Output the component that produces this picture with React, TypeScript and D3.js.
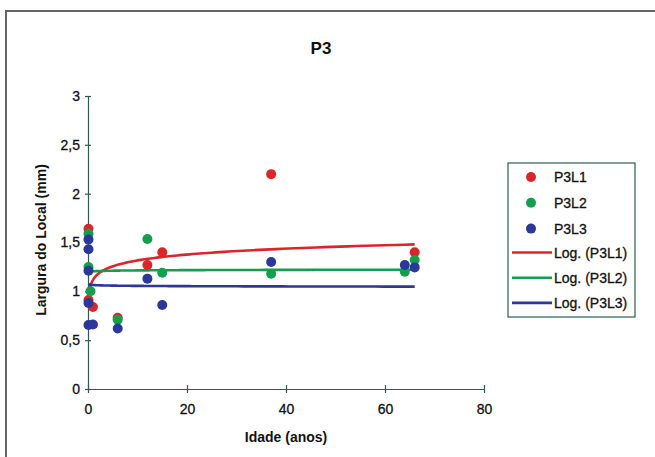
import React from 'react';
import * as d3 from 'd3';

// leituras do grafico P3
const seriesNames = ['P3L1', 'P3L2', 'P3L3'];
const seriesColors = ['#d9262b', '#12a04c', '#2b3799'];

const ageL1 = [0.1, 0.1, 1, 6, 12, 15, 37, 66];
const valL1 = [1.64, 0.91, 0.84, 0.73, 1.27, 1.40, 2.20, 1.40];

const ageL2 = [0.1, 0.1, 0.5, 6, 12, 15, 37, 64, 66];
const valL2 = [1.59, 1.25, 1.0, 0.71, 1.535, 1.19, 1.18, 1.20, 1.32];

const ageL3 = [0.1, 0.1, 0.1, 0.1, 0.1, 1, 6, 12, 15, 37, 64, 66];
const valL3 = [1.53, 1.43, 1.21, 0.88, 0.655, 0.66, 0.62, 1.13, 0.86, 1.30, 1.27, 1.245];

// y = a*ln(x) + b  (linhas de tendencia Log.)
const trendA = [0.087, 0.004, -0.004];
const trendB = [1.116, 1.205, 1.065];

const xTicks = [0, 20, 40, 60, 80];
const yTicks = [0, 0.5, 1, 1.5, 2, 2.5, 3];

export default class App extends React.Component {

    constructor(props) {
        super(props);
        this.graphWidth = 655;
        this.graphHeight = 457;
        this.font = '"Liberation Sans", Arial, sans-serif';
        this.axisColor = '#2f5a50';
    }

    componentDidMount() {
        this.drawGraph();
    }

    render() {
        return <div id="svgGraph" style={{position: 'fixed', left: 0, top: 0}}></div>;
    }

    drawGraph = () => {
        d3.select('#svgGraph svg').remove();
        const svg = d3.select('#svgGraph').append('svg')
            .attr('width', this.graphWidth)
            .attr('height', this.graphHeight)
            .style('display', 'block')
            .style('font-family', this.font);

        svg.append('rect')
            .attr('width', this.graphWidth).attr('height', this.graphHeight)
            .attr('fill', '#fff');

        // moldura
        svg.append('rect')
            .attr('x', 6).attr('y', 11)
            .attr('width', 700).attr('height', 500)
            .attr('fill', 'none')
            .attr('stroke', '#666').attr('stroke-width', 2);

        const x = d3.scaleLinear().domain([0, 80]).range([88, 484]);
        const y = d3.scaleLinear().domain([0, 3]).range([389, 96]);

        this.drawAxis(svg, x, y);

        const series = [
            {ages: ageL1, vals: valL1},
            {ages: ageL2, vals: valL2},
            {ages: ageL3, vals: valL3},
        ];

        // tendencias
        const line = d3.line().x(d => x(d[0])).y(d => y(d[1]));
        series.forEach((s, i) => {
            const [lo, hi] = d3.extent(s.ages);
            const pts = d3.range(0, 201).map(k => {
                const t = Math.exp(Math.log(lo) + (Math.log(hi) - Math.log(lo)) * k / 200);
                return [t, trendA[i] * Math.log(t) + trendB[i]];
            });
            svg.append('path')
                .datum(pts)
                .attr('fill', 'none')
                .attr('stroke', seriesColors[i])
                .attr('stroke-width', 2.6)
                .attr('stroke-linejoin', 'round')
                .attr('d', line);
        });

        // pontos
        series.forEach((s, i) => {
            svg.append('g')
                .attr('fill', seriesColors[i])
                .selectAll('circle')
                .data(s.ages.map((a, k) => [a, s.vals[k]]))
                .enter().append('circle')
                .attr('cx', d => x(d[0]))
                .attr('cy', d => y(d[1]))
                .attr('r', 5);
        });

        svg.append('text')
            .text('P3')
            .attr('x', 321).attr('y', 54)
            .attr('text-anchor', 'middle')
            .attr('font-size', 17).attr('font-weight', 'bold')
            .attr('fill', '#111');

        this.drawLegend(svg);
    }

    drawAxis = (svg, x, y) => {
        const yAxis = d3.axisLeft(y).tickValues(yTicks).tickSize(3).tickSizeOuter(0).tickPadding(5)
            .tickFormat(d => String(d).replace('.', ','));
        const gy = svg.append('g').attr('transform', 'translate(88,0)').call(yAxis);
        const xAxis = d3.axisBottom(x).tickValues(xTicks).tickSize(4).tickSizeOuter(0).tickPadding(11);
        const gx = svg.append('g').attr('transform', 'translate(0,389)').call(xAxis);

        [gy, gx].forEach(g => {
            g.select('.domain').attr('stroke', this.axisColor).attr('stroke-width', 1.2);
            g.selectAll('.tick line').attr('stroke', this.axisColor).attr('stroke-width', 1.2);
            g.selectAll('.tick text')
                .attr('font-size', 14).attr('font-family', this.font).attr('fill', '#111')
                .attr('stroke', '#111').attr('stroke-width', 0.3);
        });
        gy.selectAll('.tick line').attr('x1', 3);
        gx.selectAll('.tick line').attr('y1', -4);

        svg.append('text')
            .text('Idade (anos)')
            .attr('x', 286).attr('y', 442)
            .attr('text-anchor', 'middle')
            .attr('font-size', 14).attr('font-weight', 'bold')
            .attr('fill', '#111');

        svg.append('text')
            .text('Largura do Local (mm)')
            .attr('transform', 'translate(46,240) rotate(-90)')
            .attr('text-anchor', 'middle')
            .attr('font-size', 14).attr('font-weight', 'bold')
            .attr('fill', '#111');
    }

    drawLegend = (svg) => {
        const lg = svg.append('g').attr('transform', 'translate(508,163)');
        lg.append('rect')
            .attr('width', 127).attr('height', 154)
            .attr('fill', '#fff')
            .attr('stroke', this.axisColor).attr('stroke-width', 1.2);

        seriesNames.forEach((name, i) => {
            const cy = 14 + i * 25.8;
            lg.append('circle').attr('cx', 23).attr('cy', cy).attr('r', 5).attr('fill', seriesColors[i]);
            lg.append('text').text(name)
                .attr('x', 46).attr('y', cy + 5)
                .attr('font-size', 14).attr('fill', '#111')
                .attr('stroke', '#111').attr('stroke-width', 0.3);
        });
        seriesNames.forEach((name, i) => {
            const cy = 89.5 + i * 25.2;
            lg.append('line')
                .attr('x1', 4).attr('x2', 44).attr('y1', cy).attr('y2', cy)
                .attr('stroke', seriesColors[i]).attr('stroke-width', 2.6);
            lg.append('text').text('Log. (' + name + ')')
                .attr('x', 46).attr('y', cy + 5)
                .attr('font-size', 14).attr('fill', '#111')
                .attr('stroke', '#111').attr('stroke-width', 0.3);
        });
    }
}
